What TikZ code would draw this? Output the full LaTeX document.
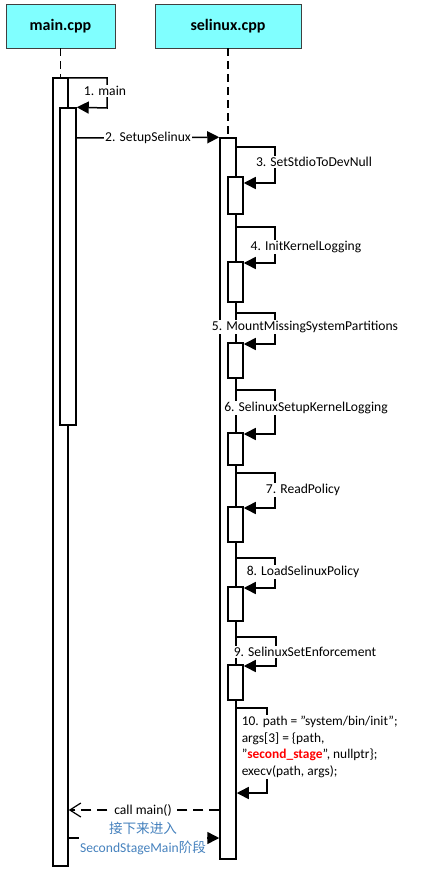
\documentclass[tikz,border=0pt]{standalone}
\usepackage{fontspec}
\setmainfont{Carlito}
\newfontfamily\cjk{Noto Sans CJK SC}
\usepackage{xcolor}
\usetikzlibrary{arrows.meta,positioning,calc}

\definecolor{hdrcyan}{RGB}{128,255,255}
\definecolor{notblue}{RGB}{70,130,190}

\begin{document}
\begin{tikzpicture}[x=1pt,y=-1pt,font=\fontsize{13.6}{15}\selectfont,line width=1.5pt,>={Triangle[length=12pt,width=12pt]}]
\tikzstyle{hdr}=[draw=black!75,line width=0.9pt,fill=hdrcyan,minimum height=44,font=\fontsize{16}{18}\selectfont\bfseries]
\tikzstyle{act}=[draw,fill=white,inner sep=0pt]
\tikzstyle{life}=[dashed,dash pattern=on 8pt off 5pt]
\tikzstyle{lbl}=[fill=white,inner sep=1pt]
\tikzstyle{msg}=[->]
\useasboundingbox (0,0) rectangle (442,874);

% headers
\node[hdr,minimum width=109] (mainhdr) at (60.5,26) {main.cpp};
\node[hdr,minimum width=146] (selhdr) at (228,26) {selinux.cpp};

% activation boxes
\node[act,minimum width=15,minimum height=788] (mainout) at (60.5,472) {};
\node[act,minimum width=16,minimum height=317] (mainin) at (68,266.5) {};
\node[act,minimum width=16,minimum height=721] (selout) at (228,498.5) {};
\node[act,minimum width=15,minimum height=37] (b3) at (235.5,195.5) {};
\node[act,minimum width=15,minimum height=40] (b4) at (235.5,282) {};
\node[act,minimum width=15,minimum height=35] (b5) at (235.5,360.5) {};
\node[act,minimum width=15,minimum height=32] (b6) at (235.5,449) {};
\node[act,minimum width=15,minimum height=35] (b7) at (235.5,524.5) {};
\node[act,minimum width=15,minimum height=34] (b8) at (235.5,604) {};
\node[act,minimum width=15,minimum height=35] (b9) at (235.5,682.5) {};

% lifelines
\draw[life] (mainhdr.south) -- (mainout.north);
\draw[life] (selhdr.south) -- (selout.north);

% 1, 2
\draw[msg] (mainout.east |- 0,78) -- (107,78) -- (107,108) -- (mainin.north east);
\node[lbl] (l1) at (105,91) {1. main};
\draw[msg] (mainin.east |- 0,138) -- (selout.north west);
\node[lbl] (l2) at (148,138) {2. SetupSelinux};

% self calls 3..9
\draw[msg] (selout.east |- 0,147) -- (275,147) -- (275,183) -- (b3.east |- 0,183);
\node[lbl] (l3) at (314,162) {3. SetStdioToDevNull};
\draw[msg] (selout.east |- 0,227) -- (275,227) -- (275,263) -- (b4.east |- 0,263);
\node[lbl] (l4) at (306,247) {4. InitKernelLogging};
\draw[msg] (selout.east |- 0,313) -- (275,313) -- (275,344) -- (b5.east |- 0,344);
\node[lbl] (l5) at (305,327) {5. MountMissingSystemPartitions};
\draw[msg] (selout.east |- 0,390) -- (275,390) -- (275,434) -- (b6.east |- 0,434);
\node[lbl] (l6) at (306,408) {6. SelinuxSetupKernelLogging};
\draw[msg] (selout.east |- 0,473) -- (275,473) -- (275,508) -- (b7.east |- 0,508);
\node[lbl] (l7) at (303,490) {7. ReadPolicy};
\draw[msg] (selout.east |- 0,558) -- (275,558) -- (275,588) -- (b8.east |- 0,588);
\node[lbl] (l8) at (303,572) {8. LoadSelinuxPolicy};
\draw[msg] (selout.east |- 0,637) -- (276,637) -- (276,666) -- (b9.east |- 0,666);
\node[lbl] (l9) at (305,652) {9. SelinuxSetEnforcement};

% 10
\draw[msg] (selout.east |- 0,708) -- (267,708) -- (267,793) -- (selout.east |- 0,793);
\node[lbl,anchor=west,align=left,font=\fontsize{13.4}{16.7}\selectfont] (l10) at (240,747)
  {10. path = "system/bin/init";\\args[3] = \{path,\\"\textcolor{red}{\textbf{second\_stage}}", nullptr\};\\execv(path, args);};

% return
\draw[life,-{Straight Barb[length=11pt,width=14pt]},line width=1.2pt,dash pattern=on 10pt off 6pt] (selout.west |- 0,810) -- (mainout.east |- 0,810);
\node[lbl] (lret) at (143,810) {call main()};
\draw[msg] (mainout.east |- 0,838) -- (selout.west |- 0,838);
\node[lbl,align=center,text=notblue,font=\fontsize{13.6}{19}\selectfont] (lnext) at (143,838.5) {{\cjk 接下来进入}\\SecondStageMain{\cjk 阶段}};
\end{tikzpicture}
\end{document}
